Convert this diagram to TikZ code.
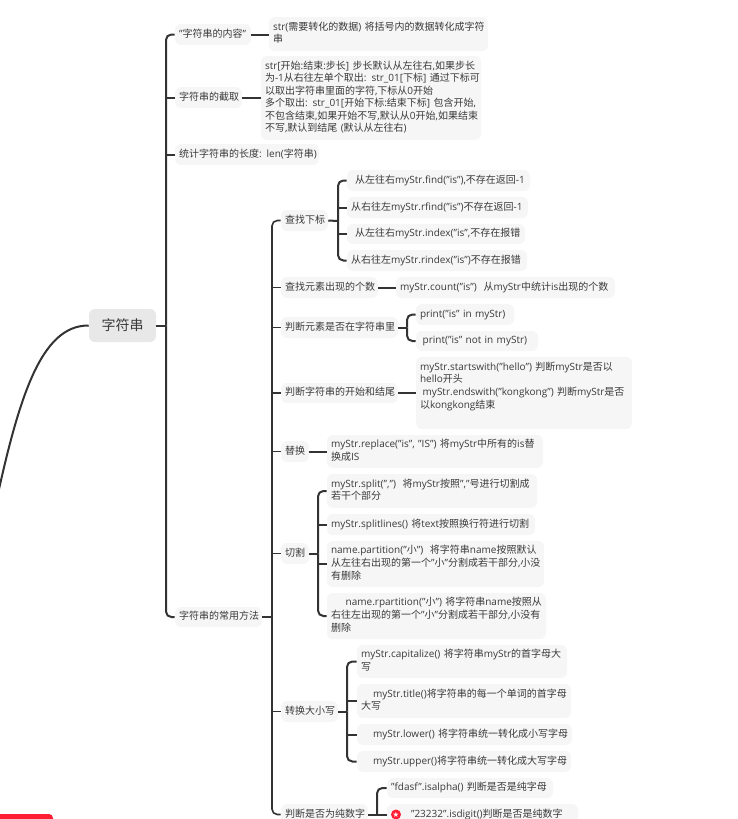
\documentclass[tikz,border=0pt]{standalone}
\usepackage{fontspec}
\setmainfont{Open Sans}
\newfontfamily\cjk{Noto Sans CJK SC}
\XeTeXinterchartokenstate=1
\newXeTeXintercharclass\cjkclass
\count255="4E00
\loop\XeTeXcharclass\count255=\cjkclass\ifnum\count255<"9FFF \advance\count255 by 1 \repeat
\XeTeXinterchartoks 0 \cjkclass={\cjk}
\XeTeXinterchartoks 4095 \cjkclass={\cjk}
\XeTeXinterchartoks \cjkclass 0={\normalfont}
\XeTeXinterchartoks \cjkclass 4095={\normalfont}
\definecolor{ink}{HTML}{3A3A3A}
\definecolor{wire}{HTML}{333333}
\definecolor{boxbg}{HTML}{F6F6F6}
\definecolor{rootbg}{HTML}{E8E8E8}
\definecolor{alert}{HTML}{FF1F35}
\tikzset{
  mmbox/.style={fill=boxbg,rounded corners=4.5pt,inner ysep=0pt,inner xsep=3pt,align=left,
    text=ink,font=\fontsize{7.5pt}{9.4pt}\selectfont},
  link/.style={draw=wire,line width=1.5pt,rounded corners=4pt}
}
\newcommand{\bx}[6]{%
  \pgfmathsetlengthmacro{\tw}{(#4-#2-8)*0.75pt}%
  \node[mmbox,text width=\tw,minimum width={(#4-#2)*0.75pt},minimum height={(#5-#3)*0.75pt}]
    (#1) at ({(#2+#4)/2},{(#3+#5)/2}) {\rlap{\raisebox{-0.9pt}{\begin{tabular}{@{}l@{}}#6\end{tabular}}}};}
\begin{document}
\begin{tikzpicture}[x=0.75pt,y=-0.75pt]
\useasboundingbox (0,0) rectangle (738,819);
\begin{scope}
\clip (0,0) rectangle (738,819);
% root
\node[fill=rootbg,rounded corners=4.5pt,minimum width=50.25pt,minimum height=24.75pt,inner sep=0pt,text=ink,
  font=\fontsize{10.5pt}{12pt}\selectfont] (root) at (122.5,325.5) {字符串};
\coordinate (bus1) at (166,325.5);
\coordinate (bus2) at (272,617);
\coordinate (busA) at (338,221);
\coordinate (busC) at (407,327.5);
\coordinate (busD) at (318,553.5);
\coordinate (busE) at (347,711.5);
\coordinate (busF) at (377,814.5);
\coordinate (off) at (-6,512);
% level 1
\bx{a}{175}{24}{251}{45}{"字符串的内容"}
\bx{ac}{269}{17}{488}{51}{str(需要转化的数据) 将括号内的数据转化成字符\\串}
\bx{b}{175}{87}{242}{108}{字符串的截取}
\bx{bc}{261}{56}{481}{140}{str[开始:结束:步长] 步长默认从左往右,如果步长\\为-1从右往左单个取出: str\_01[下标] 通过下标可\\以取出字符串里面的字符,下标从0开始\\多个取出: str\_01[开始下标:结束下标] 包含开始,\\不包含结束,如果开始不写,默认从0开始,如果结束\\不写,默认到结尾 (默认从左往右)}
\bx{c}{175}{144}{319}{165}{统计字符串的长度: len(字符串)}
\bx{d}{175}{607}{262}{627}{字符串的常用方法}
% level 2
\bx{e}{281}{210}{328}{231}{查找下标}
\bx{e1}{347}{170}{530}{191}{\hspace*{3pt}从左往右myStr.find("is"),不存在返回-1}
\bx{e2}{347}{197}{528}{218}{从右往左myStr.rfind("is")不存在返回-1}
\bx{e3}{347}{224}{525}{244}{\hspace*{3pt}从左往右myStr.index("is",不存在报错}
\bx{e4}{347}{250}{527}{271}{从右往左myStr.rindex("is")不存在报错}
\bx{f}{281}{277}{378}{298}{查找元素出现的个数}
\bx{f1}{396}{277}{615}{298}{myStr.count("is")\ \ 从myStr中统计is出现的个数}
\bx{g}{281}{317}{398}{338}{判断元素是否在字符串里}
\bx{g1}{416}{304}{514}{325}{print("is" in myStr)}
\bx{g2}{416}{331}{538}{351}{\hspace*{2pt}print("is" not in myStr)}
\bx{h}{281}{383}{398}{403}{判断字符串的开始和结尾}
\bx{h1}{416}{357}{632}{429}{myStr.startswith("hello") 判断myStr是否以\\hello开头\\\hspace*{2pt}myStr.endswith("kongkong") 判断myStr是否\\以kongkong结束\\\mbox{}}
\bx{i}{281}{441}{309}{462}{替换}
\bx{i1}{327}{435}{543}{468}{myStr.replace("is", "IS") 将myStr中所有的is替\\换成IS}
\bx{j}{281}{543}{309}{564}{切割}
\bx{j1}{327}{474}{537}{508}{myStr.split(",")\ \ 将myStr按照","号进行切割成\\若干个部分}
\bx{j2}{327}{514}{535}{535}{myStr.splitlines() 将text按照换行符进行切割}
\bx{j3}{327}{541}{544}{587}{name.partition("小")\ \ 将字符串name按照默认\\从左往右出现的第一个"小"分割成若干部分,小没\\有删除}
\bx{j4}{327}{593}{546}{639}{\hspace*{11pt}name.rpartition("小") 将字符串name按照从\\右往左出现的第一个"小"分割成若干部分,小没有\\删除}
\bx{k}{281}{701}{338}{722}{转换大小写}
\bx{k1}{357}{645}{567}{678}{myStr.capitalize() 将字符串myStr的首字母大\\写}
\bx{k2}{357}{684}{571}{718}{\hspace*{9pt}myStr.title()将字符串的每一个单词的首字母\\大写}
\bx{k3}{357}{724}{572}{745}{\hspace*{9pt}myStr.lower() 将字符串统一转化成小写字母}
\bx{k4}{357}{751}{571}{772}{\hspace*{9pt}myStr.upper()将字符串统一转化成大写字母}
\bx{l}{281}{804}{368}{825}{判断是否为纯数字}
\bx{l1}{387}{778}{553}{798}{"fdasf".isalpha() 判断是否是纯字母}
\bx{l2}{387}{804}{578}{825}{\hspace*{15pt}"23232".isdigit()判断是否是纯数字}
% star badge
\node[circle,fill=alert,minimum size=7.5pt,inner sep=0pt] (badge) at (396,814.5) {};
\node[text=white,inner sep=0pt,font=\fontsize{5.5pt}{6pt}\selectfont] (badgestar) at (badge) {\fontspec{DejaVu Sans}★};
% connectors
\draw[line width=1.5pt,draw=wire] (root.west) .. controls (40,325) and (18,400) .. (off);
\draw[link] (root.east) -- (bus1);
\draw[link] (a.west) -| (bus1);
\draw[link] (d.west) -| (bus1);
\draw[link] (b.west) -- (b.west -| bus1);
\draw[link] (c.west) -- (c.west -| bus1);
\draw[link] (a.east) -- (a.east -| ac.west);
\draw[link] (b.east) -- (b.east -| bc.west);
\draw[link] (d.east) -- (bus2);
\draw[link,line width=1.2pt] (e.west) -| (bus2);
\draw[link,line width=1.2pt] (l.west) -| (bus2);
\foreach \n in {f,g,h,i,j,k} \draw[link,line width=1.2pt] (\n.west) -- (\n.west -| bus2);
\draw[link] (e.east) -- (busA);
\draw[link] (e1.west) -| (busA);
\draw[link] (e4.west) -| (busA);
\foreach \n in {e2,e3} \draw[link] (\n.west) -- (\n.west -| busA);
\draw[link] (f.east) -- (f1.west);
\draw[link] (g.east) -- (busC);
\draw[link] (g1.west) -| (busC);
\draw[link] (g2.west) -| (busC);
\draw[link] (h.east) -- (h1.west);
\draw[link] (i.east) -- (i.east -| i1.west);
\draw[link] (j.east) -- (busD);
\draw[link] (j1.west) -| (busD);
\draw[link] (j4.west) -| (busD);
\foreach \n in {j2,j3} \draw[link] (\n.west) -- (\n.west -| busD);
\draw[link] (k.east) -- (busE);
\draw[link] (k1.west) -| (busE);
\draw[link] (k4.west) -| (busE);
\foreach \n in {k2,k3} \draw[link] (\n.west) -- (\n.west -| busE);
\draw[link] (l.east) -- (busF);
\draw[link] (l1.west) -| (busF);
\draw[link] (l2.west) -- (l2.west -| busF);
% red bar
\fill[alert,rounded corners=3pt] (-10,814) rectangle (53,830);
\end{scope}
\end{tikzpicture}
\end{document}
